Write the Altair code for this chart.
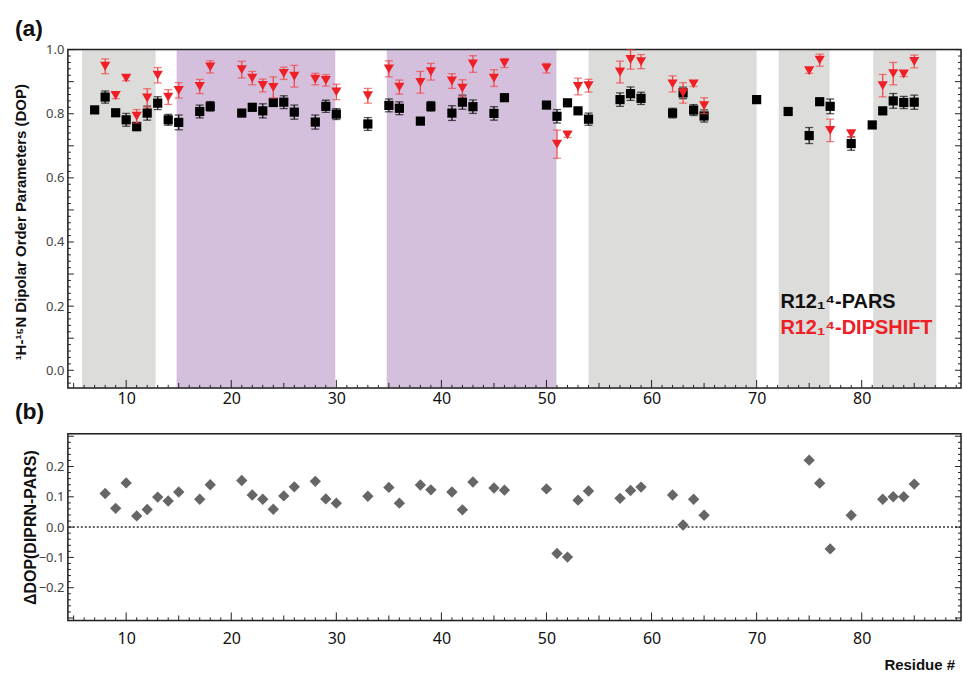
import altair as alt
import pandas as pd

# ---------------- data ----------------
res_pars = [7, 8, 9, 10, 11, 12, 13, 14, 15, 17, 18, 21, 22, 23, 24, 25, 26, 28, 29, 30,
            33, 35, 36, 38, 39, 41, 42, 43, 45, 46, 50, 51, 52, 53, 54, 57, 58, 59, 62, 63,
            64, 65, 70, 73, 75, 76, 77, 79, 81, 82, 83, 84, 85]
pars = [0.812, 0.852, 0.803, 0.781, 0.760, 0.802, 0.833, 0.781, 0.773, 0.807, 0.823,
        0.802, 0.820, 0.809, 0.835, 0.836, 0.805, 0.774, 0.823, 0.799,
        0.768, 0.826, 0.817, 0.777, 0.823, 0.802, 0.836, 0.822, 0.801, 0.850,
        0.827, 0.792, 0.834, 0.809, 0.783, 0.844, 0.8625, 0.848, 0.802, 0.865,
        0.8115, 0.793, 0.844, 0.807, 0.732, 0.8375, 0.823, 0.707, 0.765, 0.809,
        0.840, 0.835, 0.836]
pars_err = [0.008, 0.019, 0.010, 0.020, 0.013, 0.022, 0.020, 0.017, 0.023, 0.020, 0.015,
            0.008, 0.010, 0.022, 0.010, 0.020, 0.022, 0.022, 0.019, 0.017,
            0.020, 0.020, 0.020, 0.008, 0.015, 0.023, 0.022, 0.021, 0.021, 0.008,
            0.008, 0.021, 0.010, 0.008, 0.019, 0.021, 0.021, 0.019, 0.015, 0.018,
            0.017, 0.019, 0.008, 0.008, 0.025, 0.008, 0.023, 0.021, 0.008, 0.010,
            0.023, 0.019, 0.022]

res_dip = [8, 9, 10, 11, 12, 13, 14, 15, 17, 18, 21, 22, 23, 24, 25, 26, 28, 29, 30,
           33, 35, 36, 38, 39, 41, 42, 43, 45, 46, 50, 51, 52, 53, 54, 57, 58, 59, 62, 63,
           64, 65, 75, 76, 77, 79, 82, 83, 84, 85]
dip = [0.948, 0.857, 0.911, 0.792, 0.849, 0.920, 0.852, 0.873, 0.885, 0.946,
       0.9375, 0.911, 0.888, 0.882, 0.926, 0.917, 0.908, 0.904, 0.868,
       0.856, 0.940, 0.883, 0.898, 0.931, 0.902, 0.880, 0.955, 0.911, 0.958,
       0.942, 0.705, 0.734, 0.885, 0.8875, 0.930, 0.969, 0.9625, 0.893, 0.865,
       0.893, 0.825, 0.934, 0.967, 0.748, 0.7375, 0.8875, 0.925, 0.924, 0.963]
dip_err = [0.023, 0.010, 0.008, 0.021, 0.029, 0.024, 0.023, 0.024, 0.022, 0.019,
           0.026, 0.021, 0.020, 0.033, 0.019, 0.034, 0.018, 0.018, 0.024,
           0.023, 0.025, 0.022, 0.034, 0.026, 0.023, 0.026, 0.026, 0.026, 0.014,
           0.015, 0.044, 0.008, 0.026, 0.020, 0.034, 0.030, 0.022, 0.025, 0.032,
           0.008, 0.025, 0.008, 0.019, 0.035, 0.010, 0.035, 0.035, 0.008, 0.020]

res_delta = [8, 9, 10, 11, 12, 13, 14, 15, 17, 18, 21, 22, 23, 24, 25, 26, 28, 29, 30,
             33, 35, 36, 38, 39, 41, 42, 43, 45, 46, 50, 51, 52, 53, 54, 57, 58, 59, 62, 63,
             64, 65, 75, 76, 77, 79, 82, 83, 84, 85]
delta = [0.111, 0.062, 0.146, 0.037, 0.058, 0.099, 0.086, 0.116, 0.092, 0.140,
         0.154, 0.106, 0.092, 0.059, 0.103, 0.133, 0.151, 0.093, 0.079,
         0.102, 0.131, 0.079, 0.139, 0.123, 0.116, 0.057, 0.149, 0.129, 0.122,
         0.126, -0.087, -0.099, 0.089, 0.119, 0.095, 0.121, 0.132, 0.106, 0.007,
         0.092, 0.039, 0.221, 0.145, -0.072, 0.039, 0.092, 0.100, 0.100, 0.142]

band_start = [5.8, 14.8, 34.8, 54.0, 72.1, 81.1]
band_end = [12.8, 29.9, 50.95, 70.0, 76.95, 87.1]
band_color = ["#dcdcda", "#d4c0dd", "#d4c0dd", "#dcdcda", "#dcdcda", "#dcdcda"]

x_labels = [10, 20, 30, 40, 50, 60, 70, 80]
y_labels_top = [0.0, 0.2, 0.4, 0.6, 0.8, 1.0]
y_labels_bot = [-0.2, -0.1, 0.0, 0.1, 0.2]

legend_labels = ["R12\u2081\u2074-PARS", "R12\u2081\u2074-DIPSHIFT"]
legend_colors = ["#111111", "#ee2026"]

# ---------------- layout ----------------
W = 895
H1 = 339
H2 = 187
XDOM = [4.45, 89.45]
TOPDOM = [-0.055, 1.0]
BOTDOM = [-0.308, 0.308]

BOLD = "Liberation Sans, Arial, sans-serif"
LBL = "Noto Sans, sans-serif"

xscale = alt.Scale(domain=XDOM, nice=False, zero=False)
ytop = alt.Scale(domain=TOPDOM, nice=False, zero=False)
ybot = alt.Scale(domain=BOTDOM, nice=False, zero=False)

x_axis_top = alt.Axis(values=x_labels, format="d", ticks=False, domain=False, grid=False,
                      labelFont=LBL, labelFontSize=16, labelColor="#111", labelPadding=3,
                      title=None)
x_axis_bot = alt.Axis(values=x_labels, format="d", ticks=False, domain=False, grid=False,
                      labelFont=LBL, labelFontSize=16, labelColor="#111", labelPadding=10,
                      title=None)
y_axis_top = alt.Axis(values=y_labels_top, format=".1f", ticks=False, domain=False, grid=False,
                      labelFont=LBL, labelFontSize=13, labelColor="#444", labelPadding=4,
                      title=None)
y_axis_bot = alt.Axis(values=y_labels_bot, format=".1f", ticks=False, domain=False, grid=False,
                      labelFont=LBL, labelFontSize=13, labelColor="#444", labelPadding=4,
                      title=None)

# inward tick positions (axis decoration only)
xt_major = list(range(10, 90, 10))
xt_mid = list(range(5, 90, 10))
xt_minor = [v for v in range(5, 90) if v % 5 != 0]


def x_ticks(values, length, H, xaxis):
    return alt.Chart(pd.DataFrame({"t": values})).mark_rule(color="#222", strokeWidth=1).encode(
        x=alt.X("t:Q", scale=xscale, axis=xaxis), y=alt.value(H), y2=alt.value(H - length))


def y_ticks(values, length, yscale, yaxis):
    df = pd.DataFrame({"t": values})
    left = alt.Chart(df).mark_rule(color="#222", strokeWidth=1).encode(
        y=alt.Y("t:Q", scale=yscale, axis=yaxis), x=alt.value(0), x2=alt.value(length))
    right = alt.Chart(df).mark_rule(color="#222", strokeWidth=1).encode(
        y=alt.Y("t:Q", scale=yscale, axis=yaxis), x=alt.value(W), x2=alt.value(W - length))
    return [left, right]


def frame(H):
    return alt.Chart(pd.DataFrame({"f": [0]})).mark_rect(
        fill="white", fillOpacity=0, stroke="#222", strokeWidth=1.5).encode(
        x=alt.value(0), x2=alt.value(W), y=alt.value(0), y2=alt.value(H))


yt_top_major = [round(i * 0.1, 2) for i in range(0, 11)]
yt_top_minor = [round(i * 0.02, 2) for i in range(-2, 50) if i % 5 != 0]
yt_bot_major = [round(i * 0.1, 2) for i in range(-3, 4)]
yt_bot_minor = [round(i * 0.02, 2) for i in range(-15, 16) if i % 5 != 0]

# ---------------- top panel ----------------
bands = pd.DataFrame({"s": band_start, "e": band_end, "c": band_color})
band_layer = alt.Chart(bands).mark_rect().encode(
    x=alt.X("s:Q", scale=xscale, axis=x_axis_top),
    x2="e:Q",
    y=alt.value(0), y2=alt.value(H1),
    color=alt.Color("c:N", scale=None, legend=None))

dpars = pd.DataFrame({"r": res_pars, "v": pars, "e": pars_err})
dpars["lo"] = dpars["v"] - dpars["e"]
dpars["hi"] = dpars["v"] + dpars["e"]
ddip = pd.DataFrame({"r": res_dip, "v": dip, "e": dip_err})
ddip["lo"] = ddip["v"] - ddip["e"]
ddip["hi"] = ddip["v"] + ddip["e"]


def errbars(df, color):
    base = alt.Chart(df)
    rule = base.mark_rule(color=color, strokeWidth=1.3).encode(
        x=alt.X("r:Q", scale=xscale, axis=x_axis_top),
        y=alt.Y("lo:Q", scale=ytop, axis=y_axis_top), y2="hi:Q")
    cap_lo = base.mark_tick(color=color, orient="horizontal", size=8, thickness=1.3).encode(
        x=alt.X("r:Q", scale=xscale, axis=x_axis_top),
        y=alt.Y("lo:Q", scale=ytop, axis=y_axis_top))
    cap_hi = base.mark_tick(color=color, orient="horizontal", size=8, thickness=1.3).encode(
        x=alt.X("r:Q", scale=xscale, axis=x_axis_top),
        y=alt.Y("hi:Q", scale=ytop, axis=y_axis_top))
    return [rule, cap_lo, cap_hi]


pars_pts = alt.Chart(dpars).mark_point(shape="square", filled=True, size=85, color="#000000",
                                        opacity=1).encode(
    x=alt.X("r:Q", scale=xscale, axis=x_axis_top),
    y=alt.Y("v:Q", scale=ytop, axis=y_axis_top))
dip_pts = alt.Chart(ddip).mark_point(shape="triangle-down", filled=True, size=105,
                                      color="#ee2026", opacity=1).encode(
    x=alt.X("r:Q", scale=xscale, axis=x_axis_top),
    y=alt.Y("v:Q", scale=ytop, axis=y_axis_top))

lab_df = pd.DataFrame({"t": legend_labels, "c": legend_colors})
leg1 = alt.Chart(lab_df.iloc[[0]]).mark_text(font=BOLD, fontSize=20, fontWeight="bold",
                                              align="left", baseline="alphabetic").encode(
    x=alt.value(714), y=alt.value(259), text="t:N", color=alt.Color("c:N", scale=None))
leg2 = alt.Chart(lab_df.iloc[[1]]).mark_text(font=BOLD, fontSize=20, fontWeight="bold",
                                              align="left", baseline="alphabetic").encode(
    x=alt.value(714), y=alt.value(285), text="t:N", color=alt.Color("c:N", scale=None))

ttl_df = pd.DataFrame({"t": ["\u00b9H-\u00b9\u2075N Dipolar Order Parameters (DOP)", "(a)", "(b)"]})
top_title = alt.Chart(ttl_df.iloc[[0]]).mark_text(font=BOLD, fontSize=15, fontWeight="bold",
                                                   angle=270, align="center", baseline="middle",
                                                   color="#111").encode(
    x=alt.value(-47), y=alt.value(173), text="t:N")
lab_a = alt.Chart(ttl_df.iloc[[1]]).mark_text(font=BOLD, fontSize=23, fontWeight="bold",
                                               align="left", baseline="middle", color="#111").encode(
    x=alt.value(-53), y=alt.value(-21), text="t:N")
lab_b = alt.Chart(ttl_df.iloc[[2]]).mark_text(font=BOLD, fontSize=23, fontWeight="bold",
                                               align="left", baseline="middle", color="#111").encode(
    x=alt.value(-53), y=alt.value(363), text="t:N")

top_layers = [band_layer, frame(H1),
              x_ticks(xt_minor, 3, H1, x_axis_top), x_ticks(xt_mid, 5, H1, x_axis_top),
              x_ticks(xt_major, 8, H1, x_axis_top),
              *y_ticks(yt_top_minor, 3, ytop, y_axis_top), *y_ticks(yt_top_major, 6, ytop, y_axis_top),
              *errbars(dpars, "#111111"), pars_pts,
              *errbars(ddip, "#f0484c"), dip_pts,
              leg1, leg2, top_title, lab_a, lab_b]
top = alt.layer(*top_layers).properties(width=W, height=H1)

# ---------------- bottom panel ----------------
ddel = pd.DataFrame({"r": res_delta, "d": delta})

zero = alt.Chart(pd.DataFrame({"z": [0.0]})).mark_rule(color="#333", strokeWidth=1.5,
                                                        strokeDash=[2, 2]).encode(
    y=alt.Y("z:Q", scale=ybot, axis=y_axis_bot))
diam = alt.Chart(ddel).mark_point(shape="diamond", filled=True, size=130, color="#666666",
                                   opacity=1).encode(
    x=alt.X("r:Q", scale=xscale, axis=x_axis_bot),
    y=alt.Y("d:Q", scale=ybot, axis=y_axis_bot))

bt_df = pd.DataFrame({"t": ["\u0394DOP(DIPRN-PARS)", "Residue #"]})
bot_title = alt.Chart(bt_df.iloc[[0]]).mark_text(font=BOLD, fontSize=16, fontWeight="bold",
                                                  angle=270, align="center", baseline="middle",
                                                  color="#111").encode(
    x=alt.value(-37), y=alt.value(94), text="t:N")
res_title = alt.Chart(bt_df.iloc[[1]]).mark_text(font=BOLD, fontSize=15, fontWeight="bold",
                                                  align="right", baseline="middle",
                                                  color="#111").encode(
    x=alt.value(889), y=alt.value(232), text="t:N")

bot_layers = [frame(H2), zero,
              x_ticks(xt_minor, 3, H2, x_axis_bot), x_ticks(xt_mid, 5, H2, x_axis_bot),
              x_ticks(xt_major, 8, H2, x_axis_bot),
              *y_ticks(yt_bot_minor, 3, ybot, y_axis_bot), *y_ticks(yt_bot_major, 6, ybot, y_axis_bot),
              diam, bot_title, res_title]
bottom = alt.layer(*bot_layers).properties(width=W, height=H2)

chart = alt.vconcat(top, bottom, spacing=7).properties(
    padding={"left": 13, "top": 16, "right": 0, "bottom": 0}
).configure_view(stroke=None).configure(background="white")

chart.save("out.html", embed_options={"renderer": "svg", "actions": False})
